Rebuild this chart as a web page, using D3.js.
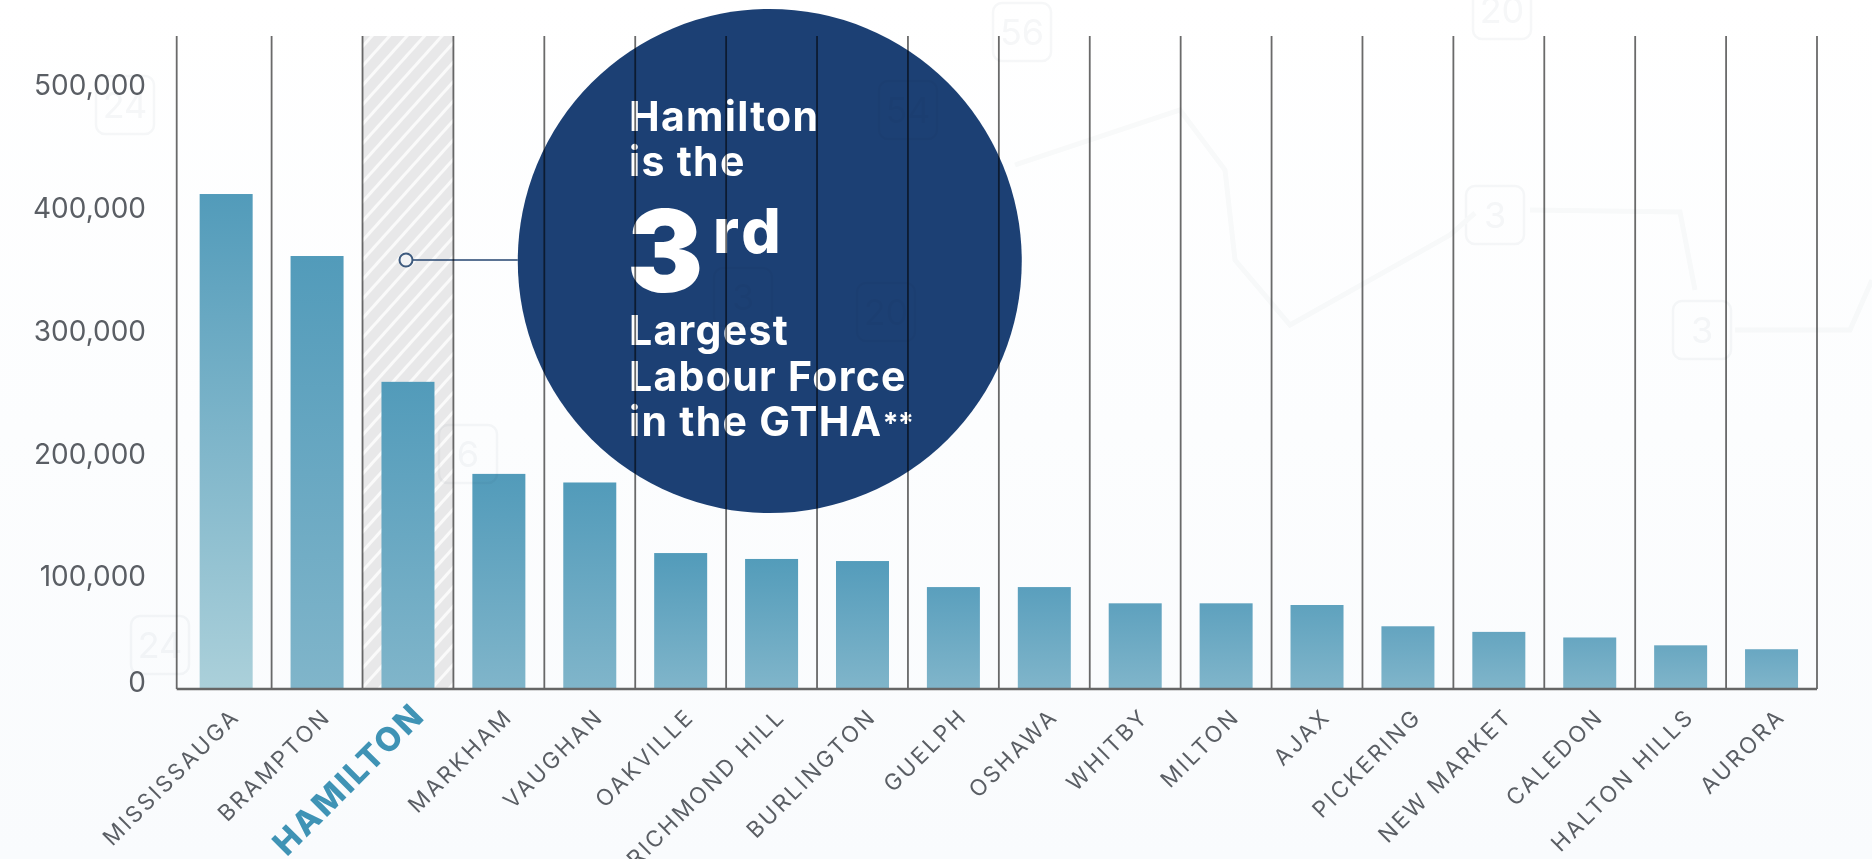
<!DOCTYPE html>
<html>
<head>
<meta charset="utf-8">
<script src="https://cdn.jsdelivr.net/npm/d3@7"></script>
<style>
    html, body { margin: 0; padding: 0; background: #fff; overflow: hidden; }
    svg { display: block; }
    text { font-family: Inter, "Open Sans", sans-serif; }
</style>
</head>
<body>
<svg id="canvas" width="1872" height="859"></svg>
<script>
(function () {

    // Data.
    const cities = ["MISSISSAUGA", "BRAMPTON", "HAMILTON", "MARKHAM", "VAUGHAN", "OAKVILLE",
        "RICHMOND HILL", "BURLINGTON", "GUELPH", "OSHAWA", "WHITBY", "MILTON", "AJAX",
        "PICKERING", "NEW MARKET", "CALEDON", "HALTON HILLS", "AURORA"];
    const labourForce = [412000, 361500, 259000, 184000, 177000, 119500, 114700, 113000, 91000,
        91000, 76500, 76500, 75000, 56000, 51000, 46000, 39000, 35500];
    const yTicks = [0, 100000, 200000, 300000, 400000, 500000];
    const highlight = "HAMILTON";
    const calloutLines = ["Hamilton", "is the", "Largest", "Labour Force", "in the GTHA"];

    // Faint highway signs behind the chart.
    const signs = ["24", "24", "56", "54", "3", "20", "6", "3", "3", "20"];

    const BASELINE = 689;
    const TOP = 36;
    const AXIS_X = 176.7;
    const BAR_WIDTH = 53;

    let svg = d3.select("#canvas");
    let defs = svg.append("defs");

    // Page background, very slightly blue towards the bottom.
    let bg = defs.append("linearGradient").attr("id", "bg")
        .attr("x1", 0).attr("y1", 0).attr("x2", 0).attr("y2", 1);
    bg.append("stop").attr("offset", "0%").attr("stop-color", "#ffffff");
    bg.append("stop").attr("offset", "100%").attr("stop-color", "#f9fbfd");
    svg.append("rect").attr("width", 1872).attr("height", 859).attr("fill", "url(#bg)");

    // Hatch for the highlighted band.
    let hatch = defs.append("pattern").attr("id", "hatch")
        .attr("patternUnits", "userSpaceOnUse")
        .attr("width", 13).attr("height", 13)
        .attr("patternTransform", "rotate(42)");
    hatch.append("rect").attr("width", 13).attr("height", 13).attr("fill", "#e8e8e9");
    hatch.append("rect").attr("width", 3).attr("height", 13).attr("fill", "#fafafa");

    // The scales. The upper labels are evenly spaced but the zero sits lower down
    // on the baseline, so the y scale has a knee at 100,000.
    let x = d3.scaleBand().domain(cities).range([180.7, 1817]);
    let y = d3.scaleLinear().domain([0, 100000, 500000]).range([BASELINE, 577, 86]);
    let topColor = d3.scaleLinear().domain([30000, 120000]).range(["#6ba8c2", "#529bba"]).clamp(true);

    // One gradient a bar, since the short bars start out paler.
    let gradients = defs.selectAll("linearGradient.bar")
        .data(cities)
        .enter().append("linearGradient")
        .attr("class", "bar")
        .attr("id", (d, i) => "bar" + i)
        .attr("x1", 0).attr("y1", 0).attr("x2", 0).attr("y2", 1);
    gradients.append("stop").attr("offset", "0%")
        .attr("stop-color", (d, i) => topColor(labourForce[i]));
    gradients.append("stop").attr("offset", "100%")
        .attr("stop-color", (d, i) => i === 0 ? "#abd0da" : "#80b5ca");

    svg.append("rect")
        .attr("x", x(highlight))
        .attr("y", TOP)
        .attr("width", x.step())
        .attr("height", BASELINE - TOP)
        .attr("fill", "url(#hatch)");

    svg.selectAll("rect.bar")
        .data(cities)
        .enter().append("rect")
        .attr("class", "bar")
        .attr("x", d => x(d) + (x.step() - BAR_WIDTH) / 2)
        .attr("y", (d, i) => y(labourForce[i]))
        .attr("width", BAR_WIDTH)
        .attr("height", (d, i) => BASELINE - y(labourForce[i]))
        .attr("fill", (d, i) => "url(#bar" + i + ")");

    // Callout.
    let cx = x(cities[5]) + x.step() * 1.48;
    let cy = 261;
    let r = 252;
    svg.append("circle").attr("cx", cx).attr("cy", cy).attr("r", r).attr("fill", "#1c4074");
    svg.append("line")
        .attr("x1", 413).attr("x2", cx - r).attr("y1", 260).attr("y2", 260)
        .attr("stroke", "#24456f").attr("stroke-width", 1.6);
    svg.append("circle")
        .attr("cx", 406).attr("cy", 260).attr("r", 6.5)
        .attr("fill", "#f2f3f5").attr("stroke", "#3d5a7e").attr("stroke-width", 2);

    let callout = svg.append("g").attr("fill", "#fff").attr("font-weight", 700);
    let calloutText = [];
    [[131, 0], [176, 1], [345, 2], [391, 3], [436, 4]].forEach(function (l) {
        calloutText.push(callout.append("text")
            .attr("x", 629)
            .attr("y", l[0])
            .attr("font-size", 41)
            .attr("letter-spacing", 1.3)
            .text(calloutLines[l[1]]));
    });
    // The footnote stars are small and raised.
    calloutText[4].append("tspan")
        .attr("font-size", 29)
        .attr("letter-spacing", -1)
        .attr("dy", -3)
        .text("**");
    callout.append("text").attr("x", 627).attr("y", 292)
        .attr("font-size", 114).attr("font-weight", 900).text("3");
    callout.append("text").attr("x", 713).attr("y", 253)
        .attr("font-size", 62).attr("font-weight", 800).attr("letter-spacing", 4).text("rd");

    // Vertical rules, on top of the circle and darker where they cross it.
    // The first one is the y axis, a little left of the first band.
    svg.selectAll("line.rule")
        .data([AXIS_X].concat(cities.slice(1).map(d => x(d)), [x.range()[1]]))
        .enter().append("line")
        .attr("class", "rule")
        .attr("x1", d => d).attr("x2", d => d)
        .attr("y1", TOP).attr("y2", BASELINE)
        .attr("stroke", "#6a6a6a")
        .attr("stroke-width", 1.8)
        .style("mix-blend-mode", "multiply");

    // Axes.
    let yAxis = svg.append("g")
        .attr("transform", "translate(152, 0)")
        .call(d3.axisLeft(y).tickValues(yTicks).tickFormat(d3.format(",")).tickSize(0).tickPadding(6));
    yAxis.select(".domain").remove();
    yAxis.selectAll("text")
        .attr("font-family", null)
        .attr("font-size", 28)
        .attr("fill", "#5a5e64")
        .attr("dy", d => d === 0 ? "0.1em" : "0.32em");

    svg.append("line")
        .attr("x1", AXIS_X).attr("x2", x.range()[1])
        .attr("y1", BASELINE).attr("y2", BASELINE)
        .attr("stroke", "#666")
        .attr("stroke-width", 2.6);

    let xAxis = svg.append("g")
        .attr("transform", "translate(0, " + BASELINE + ")")
        .call(d3.axisBottom(x).tickSize(0));
    xAxis.select(".domain").remove();
    xAxis.selectAll("text")
        .attr("text-anchor", "end")
        .attr("y", 0)
        .attr("dy", 0)
        .attr("transform", d => "translate(" + (d === highlight ? 19 : 15) + ", " + (d === highlight ? 28 : 29) + ") rotate(-45)")
        .attr("font-size", d => d === highlight ? 33 : 22.5)
        .attr("font-weight", d => d === highlight ? 800 : 400)
        .attr("letter-spacing", d => d === highlight ? 2.5 : 2.6)
        .attr("fill", d => d === highlight ? "#3f93b5" : "#5a5e64");

    // Background map, barely there.
    let ghost = svg.append("g").style("mix-blend-mode", "multiply");
    let signSpots = [[125, 105], [160, 645], [1022, 32], [908, 110], [743, 297], [886, 312], [468, 454], [1495, 215], [1702, 330], [1502, 10]];
    ghost.selectAll("rect")
        .data(signs)
        .enter().append("rect")
        .attr("x", (d, i) => signSpots[i][0] - 29)
        .attr("y", (d, i) => signSpots[i][1] - 29)
        .attr("width", 58).attr("height", 58).attr("rx", 9)
        .attr("fill", "none").attr("stroke", "#f6f7f8").attr("stroke-width", 2.5);
    ghost.selectAll("text")
        .data(signs)
        .enter().append("text")
        .attr("x", (d, i) => signSpots[i][0])
        .attr("y", (d, i) => signSpots[i][1] + 13)
        .attr("text-anchor", "middle")
        .attr("font-size", 36)
        .attr("fill", "#f6f7f8")
        .text(d => d);
    ghost.append("path")
        .attr("d", "M1015,165 L1180,110 L1225,170 L1235,260 L1290,325 L1450,235 L1475,213 M1530,210 L1680,212 L1695,290 M1735,330 L1850,330 L1872,280")
        .attr("fill", "none").attr("stroke", "#f9fafa").attr("stroke-width", 5);

})();
</script>
</body>
</html>
